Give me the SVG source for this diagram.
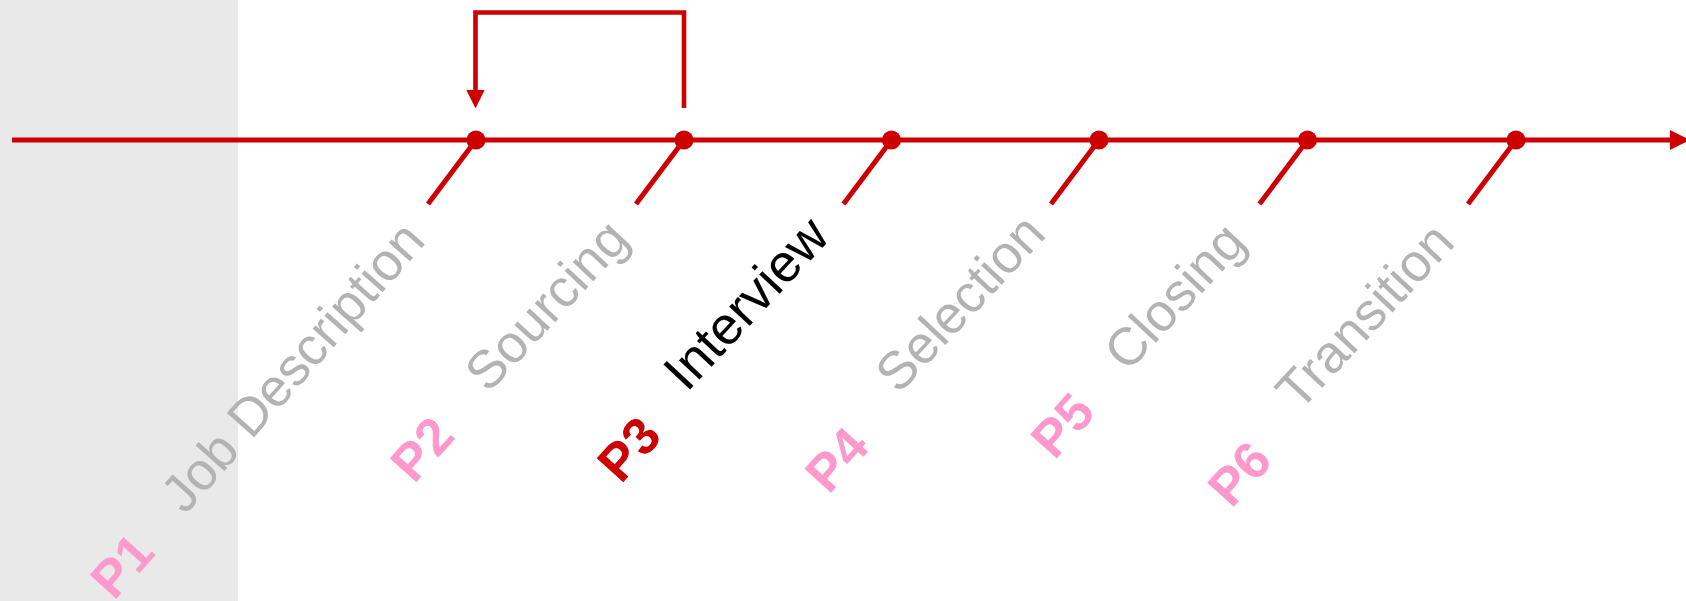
<svg xmlns="http://www.w3.org/2000/svg" width="1686" height="601" viewBox="0 0 1686 601">
  <style>
    .axis { stroke: #cc0000; stroke-width: 5; fill: none; }
    .tick { stroke: #cc0000; stroke-width: 5; fill: none; }
    .loop { stroke: #cc0000; stroke-width: 4.6; fill: none; stroke-linejoin: miter; }
    .dot { fill: #cc0000; }
    .name { font-family: "Liberation Sans", Arial, sans-serif; font-size: 53px; fill: #b3b3b3; text-anchor: end; }
    .name.active { fill: #000000; }
    .phase { font-family: "Liberation Sans", Arial, sans-serif; font-size: 52px; font-weight: bold; fill: #ff99cc; text-anchor: middle; }
    .phase.active { fill: #cc0000; }
  </style>
  <defs>
    <marker id="arrow" markerWidth="4" markerHeight="4" refX="0" refY="2" orient="auto" markerUnits="strokeWidth">
      <path d="M0,0 L4,2 L0,4 Z" fill="#cc0000"/>
    </marker>
  </defs>

  <!-- shaded lead-in panel -->
  <rect x="0" y="0" width="238" height="601" fill="#e9e9e9"/>

  <g id="connectors">
    <line class="axis" x1="12" y1="140" x2="1670" y2="140" marker-end="url(#arrow)"/>
    <polyline class="loop" points="684,108 684,12.5 475.5,12.5 475.5,90" marker-end="url(#arrow)"/>
  </g>

  <g id="p1-job-description">
    <line class="tick" x1="476" y1="140" x2="428" y2="204"/>
    <circle class="dot" cx="476" cy="140" r="9.5"/>
    <text class="name" transform="translate(427,242) rotate(-48.5)">Job Description</text>
    <text class="phase" transform="translate(135.4,577.6) rotate(-48)">P1</text>
  </g>

  <g id="p2-sourcing">
    <line class="tick" x1="684" y1="140" x2="636" y2="204"/>
    <circle class="dot" cx="684" cy="140" r="9.5"/>
    <text class="name" transform="translate(631,241) rotate(-47)">Sourcing</text>
    <text class="phase" transform="translate(435.4,461) rotate(-48)">P2</text>
  </g>

  <g id="p3-interview">
    <line class="tick" x1="891.5" y1="140" x2="843.5" y2="204"/>
    <circle class="dot" cx="891.5" cy="140" r="9.5"/>
    <text class="name active" transform="translate(831.5,238) rotate(-47)">Interview</text>
    <text class="phase active" transform="translate(642.4,461) rotate(-48)">P3</text>
  </g>

  <g id="p4-selection">
    <line class="tick" x1="1099" y1="140" x2="1051" y2="204"/>
    <circle class="dot" cx="1099" cy="140" r="9.5"/>
    <text class="name" transform="translate(1047.5,235.5) rotate(-47)">Selection</text>
    <text class="phase" transform="translate(850,471.7) rotate(-48)">P4</text>
  </g>

  <g id="p5-closing">
    <line class="tick" x1="1307.5" y1="140" x2="1259.5" y2="204"/>
    <circle class="dot" cx="1307.5" cy="140" r="9.5"/>
    <text class="name" transform="translate(1248,244) rotate(-47)">Closing</text>
    <text class="phase" transform="translate(1075.8,437.3) rotate(-48)">P5</text>
  </g>

  <g id="p6-transition">
    <line class="tick" x1="1516" y1="140" x2="1468" y2="204"/>
    <circle class="dot" cx="1516" cy="140" r="9.5"/>
    <text class="name" transform="translate(1456.5,244) rotate(-47)">Transition</text>
    <text class="phase" transform="translate(1252.7,485.7) rotate(-48)">P6</text>
  </g>
</svg>
